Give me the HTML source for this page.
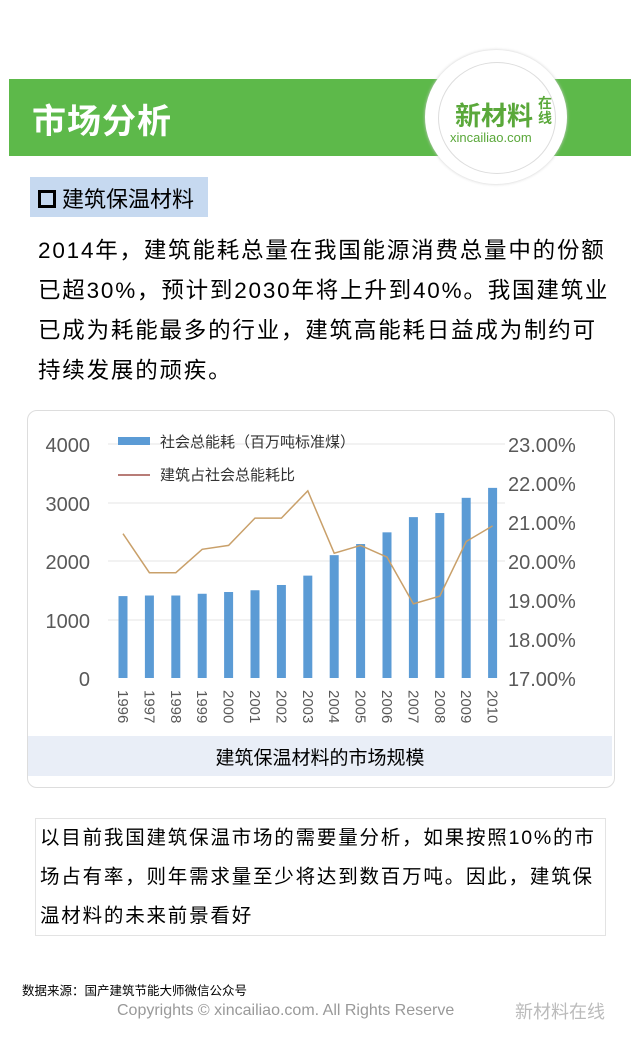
<!DOCTYPE html>
<html><head><meta charset="utf-8"><style>
body{margin:0;width:640px;height:1041px;background:#fff;position:relative;overflow:hidden;font-family:"Liberation Sans","Noto Sans CJK SC",sans-serif}
.abs{position:absolute}
</style></head><body>
<div class="abs" style="left:9px;top:79px;width:622px;height:77px;background:#5db94a"></div>
<div class="abs" style="left:32px;top:94px;color:#fff;font-size:34px;font-weight:bold;letter-spacing:1px">市场分析</div>
<div class="abs" style="left:425px;top:50px;width:142px;height:134px;border-radius:50%;background:#fff;box-shadow:0 0 3px #ccc"></div>
<div class="abs" style="left:438px;top:62px;width:116px;height:110px;border-radius:50%;border:1px solid #ddd"></div>
<div class="abs" style="left:455px;top:96px;color:#5aa83a;font-size:26px;font-weight:bold">新材料</div>
<div class="abs" style="left:538px;top:96px;width:16px;color:#5aa83a;font-size:14px;font-weight:bold;line-height:15px">在线</div>
<div class="abs" style="left:450px;top:130px;color:#5aa83a;font-size:13px">xincailiao.com</div>
<div class="abs" style="left:30px;top:177px;width:178px;height:40px;background:#c6d9f0"></div>
<div class="abs" style="left:38px;top:182px;font-size:22px;color:#000"><span style="display:inline-block;width:12px;height:12px;border:3px solid #000;vertical-align:middle;margin-right:6px;position:relative;top:-2px"></span>建筑保温材料</div>
<div class="abs" style="left:38px;top:231px;width:600px;font-size:22.5px;line-height:40px;color:#000;white-space:nowrap;letter-spacing:1.8px">2014年，建筑能耗总量在我国能源消费总量中的份额<br>已超30%，预计到2030年将上升到40%。我国建筑业<br>已成为耗能最多的行业，建筑高能耗日益成为制约可<br>持续发展的顽疾。</div>
<div class="abs" style="left:27px;top:410px;width:586px;height:376px;border:1px solid #ddd;border-radius:10px"></div>
<div class="abs" style="left:28px;top:736px;width:584px;height:40px;background:#e9eef7"></div>
<div class="abs" style="left:28px;top:743px;width:584px;text-align:center;font-size:19px">建筑保温材料的市场规模</div>
<svg class="abs" style="left:0;top:0" width="640" height="800">
<g stroke="#e6e6e6"><line x1="108" x2="505" y1="444" y2="444"/><line x1="108" x2="505" y1="503" y2="503"/><line x1="108" x2="505" y1="561" y2="561"/><line x1="108" x2="505" y1="620" y2="620"/></g>
<g font-size="20" fill="#595959" text-anchor="end"><text x="90" y="452">4000</text><text x="90" y="511">3000</text><text x="90" y="569">2000</text><text x="90" y="628">1000</text><text x="90" y="686">0</text></g>
<g font-size="20" fill="#595959"><text x="508" y="452">23.00%</text><text x="508" y="491">22.00%</text><text x="508" y="530">21.00%</text><text x="508" y="569">20.00%</text><text x="508" y="608">19.00%</text><text x="508" y="647">18.00%</text><text x="508" y="686">17.00%</text></g>
<g fill="#5b9bd5" id="bars"></g>
<polyline id="ln" fill="none" stroke="#c9a06a" stroke-width="1.5"/>
<g font-size="15" fill="#595959" id="yrs"></g>
<rect x="118" y="437" width="32" height="8" fill="#5b9bd5"/><text x="160" y="447" font-size="15" fill="#333">社会总能耗（百万吨标准煤）</text>
<line x1="118" x2="150" y1="475" y2="475" stroke="#a0504a" stroke-width="1.5"/><text x="160" y="480" font-size="15" fill="#333">建筑占社会总能耗比</text>
</svg>
<div class="abs" style="left:35px;top:818px;width:569px;height:116px;border:1px solid #e3e3e3"></div>
<div class="abs" style="left:40px;top:819px;width:570px;font-size:19.5px;line-height:39px;color:#000;white-space:nowrap;letter-spacing:1.8px">以目前我国建筑保温市场的需要量分析，如果按照10%的市<br>场占有率，则年需求量至少将达到数百万吨。因此，建筑保<br>温材料的未来前景看好</div>
<div class="abs" style="left:22px;top:980px;font-size:12.5px;color:#000">数据来源：国产建筑节能大师微信公众号</div>
<div class="abs" style="left:117px;top:1002px;font-size:16px;color:#999">Copyrights © xincailiao.com. All Rights Reserve</div>
<div class="abs" style="left:515px;top:998px;font-size:18px;color:#bbb">新材料在线</div>
<script>
var v=[1400,1410,1410,1440,1470,1500,1590,1750,2100,2290,2490,2750,2820,3080,3250];
var p=[20.7,19.7,19.7,20.3,20.4,21.1,21.1,21.8,20.2,20.4,20.1,18.9,19.1,20.5,20.9];
var b='',pts=[],y='';
for(var i=0;i<15;i++){var x=123+26.4*i;var h=v[i]*0.0585;
b+='<rect x="'+(x-4.5)+'" y="'+(678-h)+'" width="9" height="'+h+'"/>';
pts.push(x+','+(678-(p[i]-17)*39));
y+='<text transform="translate('+(x-5)+',690) rotate(90)">'+(1996+i)+'</text>';}
document.getElementById('bars').innerHTML=b;
document.getElementById('ln').setAttribute('points',pts.join(' '));
document.getElementById('yrs').innerHTML=y;
</script>
</body></html>
